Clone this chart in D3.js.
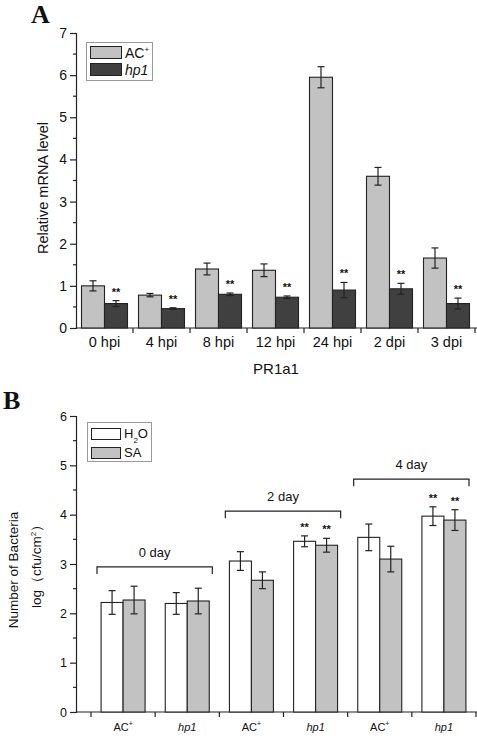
<!DOCTYPE html>
<html><head><meta charset="utf-8">
<script src="https://cdn.jsdelivr.net/npm/d3@7"></script>
<style>body{margin:0;background:#fff}svg{display:block}text{font-family:"Liberation Sans",Arial,sans-serif;fill:#111}</style>
</head><body><svg id="c" width="477" height="736"></svg>
<script>
// Panel A data
const catsA = ["0 hpi","4 hpi","8 hpi","12 hpi","24 hpi","2 dpi","3 dpi"];
const acA = [1.00,0.78,1.40,1.37,5.95,3.60,1.66];
const acAerr = [0.12,0.04,0.14,0.15,0.25,0.21,0.24];
const hpA = [0.58,0.46,0.80,0.73,0.90,0.93,0.58];
const hpAerr = [0.07,0.02,0.03,0.03,0.18,0.13,0.13];
const ticksA = [0,1,2,3,4,5,6,7];
// Panel B data
const catsB = ["AC+","hp1","AC+","hp1","AC+","hp1"];
const h2oB = [2.22,2.20,3.06,3.46,3.54,3.97];
const h2oBerr = [0.24,0.22,0.19,0.11,0.27,0.19];
const saB = [2.27,2.25,2.67,3.38,3.10,3.89];
const saBerr = [0.28,0.26,0.17,0.14,0.26,0.21];
const ticksB = [0,1,2,3,4,5,6];
const starsB = [false,false,false,true,false,true];
const brackets = [{label:"0 day",from:0,to:1,y:2.94},{label:"2 day",from:2,to:3,y:4.07},{label:"4 day",from:4,to:5,y:4.72}];

const svg = d3.select("#c");
const ink = "#222";

function panel(o){
  const g = svg.append("g");
  const x = d3.scaleBand().domain(d3.range(o.cats.length)).range(o.xr);
  const y = d3.scaleLinear().domain([0,o.ymax]).range(o.yr);
  const ya = d3.axisLeft(y).tickValues(o.ticks).tickSize(6).tickPadding(3).tickFormat(d3.format("d"));
  const yg = g.append("g").attr("transform",`translate(${o.xaxis0},0)`).call(ya);
  yg.select(".domain").attr("stroke",ink).attr("stroke-width",1.2);
  yg.selectAll(".tick line").attr("stroke",ink).attr("stroke-width",1.2);
  yg.selectAll(".tick text").style("font-size",o.tfs+"px").attr("fill","#111");
  const minors = d3.range(0.5,o.ymax,1);
  g.selectAll(".mn").data(minors).join("line").attr("x1",o.xaxis0-3).attr("x2",o.xaxis0)
    .attr("y1",d=>y(d)).attr("y2",d=>y(d)).attr("stroke",ink).attr("stroke-width",1.2);
  g.append("line").attr("x1",o.xaxis0).attr("x2",o.xaxis1).attr("y1",y(0)).attr("y2",y(0)).attr("stroke",ink).attr("stroke-width",1.2);
  const bounds = d3.range(o.cats.length+1).map(i=>o.xr[0]+i*x.step());
  g.selectAll(".xt").data(bounds.filter(b=>b>o.xaxis0+1)).join("line").attr("x1",d=>d).attr("x2",d=>d)
    .attr("y1",y(0)).attr("y2",y(0)+5).attr("stroke",ink).attr("stroke-width",1.2);
  const bw = o.bw;
  const series = [{v:o.s1,e:o.e1,fill:o.c1,off:-bw},{v:o.s2,e:o.e2,fill:o.c2,off:0}];
  series.forEach(s=>{
    const cx = i=>x(i)+x.bandwidth()/2+s.off;
    g.selectAll(null).data(s.v).join("rect").attr("x",(d,i)=>cx(i)).attr("width",bw)
      .attr("y",d=>y(d)).attr("height",d=>y(0)-y(d)).attr("fill",s.fill).attr("stroke",ink).attr("stroke-width",1.1);
    s.v.forEach((d,i)=>{
      const mx = cx(i)+bw/2, t=y(d+s.e[i]), b=y(d-s.e[i]);
      g.append("line").attr("x1",mx).attr("x2",mx).attr("y1",t).attr("y2",b).attr("stroke",ink).attr("stroke-width",1.2);
      [t,b].forEach(yy=>g.append("line").attr("x1",mx-3.5).attr("x2",mx+3.5).attr("y1",yy).attr("y2",yy).attr("stroke",ink).attr("stroke-width",1.2));
    });
  });
  return {g,x,y};
}

// ---------- Panel A ----------
const A = panel({cats:catsA,xr:[76,475],xaxis0:76,xaxis1:477,ymax:7,yr:[328,33],ticks:ticksA,tfs:14,
  s1:acA,e1:acAerr,s2:hpA,e2:hpAerr,c1:"#c2c2c2",c2:"#404040",bw:23});
A.g.selectAll(".xl").data(catsA).join("text").attr("x",(d,i)=>A.x(i)+A.x.bandwidth()/2).attr("y",347)
  .attr("text-anchor","middle").style("font-size","14.5px").text(d=>d);
hpA.forEach((d,i)=>{
  A.g.append("text").attr("x",A.x(i)+A.x.bandwidth()/2+11.5).attr("y",A.y(d+hpAerr[i])-5)
   .attr("text-anchor","middle").style("font-size","11px").style("font-weight","bold").text("**");
});
A.g.append("text").attr("transform","translate(48,188) rotate(-90)").attr("text-anchor","middle").style("font-size","14.5px").text("Relative mRNA level");
A.g.append("text").attr("x",276).attr("y",374).attr("text-anchor","middle").style("font-size","15px").text("PR1a1");
svg.append("text").attr("x",31).attr("y",23).style("font-family","Liberation Serif,serif").style("font-weight","bold").style("font-size","26px").text("A");
// legend A
const la = svg.append("g");
la.append("rect").attr("x",86.5).attr("y",42.5).attr("width",66).attr("height",38).attr("fill","#fff").attr("stroke","#999");
la.append("rect").attr("x",90.5).attr("y",46.5).attr("width",31).attr("height",12).attr("fill","#c2c2c2").attr("stroke",ink);
la.append("rect").attr("x",90.5).attr("y",63.5).attr("width",31).attr("height",12).attr("fill","#404040").attr("stroke",ink);
const t1 = la.append("text").attr("x",125).attr("y",58).style("font-size","14px");
t1.append("tspan").text("AC");
t1.append("tspan").attr("dy",-6).style("font-size","8px").text("+");
la.append("text").attr("x",125).attr("y",75).style("font-size","14px").style("font-style","italic").text("hp1");

// ---------- Panel B ----------
const B = panel({cats:catsB,xr:[91,476],xaxis0:76,xaxis1:477,ymax:6,yr:[712,416],ticks:ticksB,tfs:12.5,
  s1:h2oB,e1:h2oBerr,s2:saB,e2:saBerr,c1:"#ffffff",c2:"#c2c2c2",bw:22});
catsB.forEach((d,i)=>{
  const t = B.g.append("text").attr("x",B.x(i)+B.x.bandwidth()/2).attr("y",731).attr("text-anchor","middle").style("font-size","11px");
  if(d==="AC+"){ t.append("tspan").text("AC"); t.append("tspan").attr("dy",-5).style("font-size","7px").text("+"); }
  else { t.style("font-style","italic").text(d); }
});
starsB.forEach((s,i)=>{
  if(!s) return;
  [[-11,h2oB[i]+h2oBerr[i]],[11,saB[i]+saBerr[i]]].forEach(([off,v])=>{
    B.g.append("text").attr("x",B.x(i)+B.x.bandwidth()/2+off).attr("y",B.y(v)-5)
      .attr("text-anchor","middle").style("font-size","11px").style("font-weight","bold").text("**");
  });
});
brackets.forEach(b=>{
  const x0 = B.x(b.from)+6, x1 = B.x(b.to)+B.x.bandwidth()-7, yy = B.y(b.y);
  B.g.append("path").attr("d",`M${x0},${yy+7}V${yy}H${x1}V${yy+7}`).attr("fill","none").attr("stroke",ink).attr("stroke-width",1.2);
  B.g.append("text").attr("x",(x0+x1)/2).attr("y",yy-10).attr("text-anchor","middle").style("font-size","13px").text(b.label);
});
B.g.append("text").attr("transform","translate(18,570) rotate(-90)").attr("text-anchor","middle").style("font-size","13.5px").text("Number of Bacteria");
const yl2 = B.g.append("text").attr("transform","translate(41,563) rotate(-90)").attr("text-anchor","middle").style("font-size","13.5px");
yl2.append("tspan").text("log（cfu/cm");
yl2.append("tspan").attr("dy",-5).style("font-size","8px").text("2");
yl2.append("tspan").attr("dy",5).text("）");
svg.append("text").attr("x",3).attr("y",409).style("font-family","Liberation Serif,serif").style("font-weight","bold").style("font-size","26px").text("B");
// legend B
const lb = svg.append("g");
lb.append("rect").attr("x",87.5).attr("y",422.5).attr("width",64).attr("height",39).attr("fill","#fff").attr("stroke","#999");
lb.append("rect").attr("x",91.5).attr("y",428.5).attr("width",29).attr("height",11).attr("fill","#fff").attr("stroke",ink);
lb.append("rect").attr("x",91.5).attr("y",447.5).attr("width",29).attr("height",11).attr("fill","#c2c2c2").attr("stroke",ink);
const t2 = lb.append("text").attr("x",124).attr("y",438).style("font-size","13px");
t2.append("tspan").text("H");
t2.append("tspan").attr("dy",5).style("font-size","8px").text("2");
t2.append("tspan").attr("dy",-5).text("O");
lb.append("text").attr("x",124).attr("y",457).style("font-size","13px").text("SA");
</script></body></html>
